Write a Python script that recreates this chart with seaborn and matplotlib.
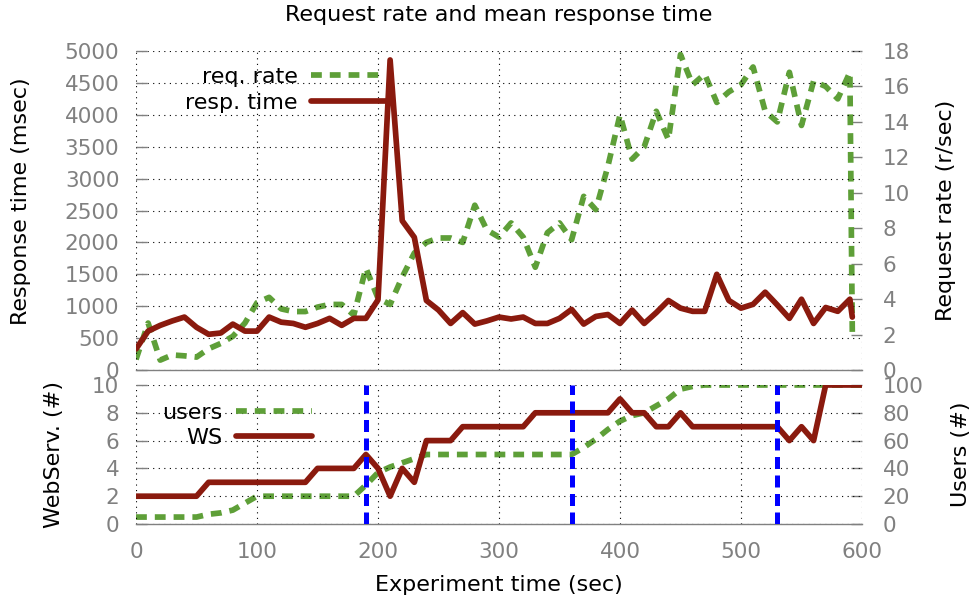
import matplotlib
matplotlib.use('Agg')
import matplotlib.pyplot as plt
import seaborn as sns

# ---- top panel: request rate / response time ----
time_top = [0, 10, 20, 30, 40, 50, 60, 70, 80, 90,
            100, 110, 120, 130, 140, 150, 160, 170, 180, 190,
            200, 210, 220, 230, 240, 250, 260, 270, 280, 290,
            300, 310, 320, 330, 340, 350, 360, 370, 380, 390,
            400, 410, 420, 430, 440, 450, 460, 470, 480, 490,
            500, 510, 520, 530, 540, 550, 560, 570, 580, 590, 592]
resp_time = [330, 610, 700, 770, 830, 670, 560, 580, 720, 610,
             610, 830, 750, 730, 670, 730, 810, 700, 810, 810,
             1100, 4860, 2340, 2080, 1090, 940, 730, 900, 720, 770,
             830, 800, 830, 730, 730, 810, 950, 720, 840, 870,
             730, 940, 730, 900, 1090, 970, 920, 920, 1500, 1090,
             970, 1030, 1220, 1020, 810, 1110, 730, 980, 920, 1110, 830]
req_rate = [0.6, 2.65, 0.56, 0.85, 0.8, 0.73, 1.2, 1.5, 1.9, 2.65,
            3.8, 4.1, 3.45, 3.3, 3.3, 3.55, 3.7, 3.7, 3.1, 5.75,
            4.05, 3.7, 5.25, 6.6, 7.2, 7.45, 7.45, 7.2, 9.3, 7.9,
            7.5, 8.3, 7.5, 5.8, 7.75, 8.3, 7.35, 9.8, 9.05, 11.5,
            14.4, 11.9, 12.6, 14.6, 13.0, 17.8, 16.1, 16.7, 15.1, 15.7,
            16.1, 17.1, 14.6, 14.0, 16.8, 13.8, 16.3, 16.0, 15.3, 16.8, 2.1]

# ---- bottom panel: web servers / users ----
time_bot = [0, 10, 20, 30, 40, 50, 60, 70, 80, 90,
            100, 110, 120, 130, 140, 150, 160, 170, 180, 190,
            200, 210, 220, 230, 240, 250, 260, 270, 280, 290,
            300, 310, 320, 330, 340, 350, 360, 370, 380, 390,
            400, 410, 420, 430, 440, 450, 460, 470, 480, 490,
            500, 510, 520, 530, 540, 550, 560, 570, 580, 590, 600]
web_servers = [2, 2, 2, 2, 2, 2, 3, 3, 3, 3,
               3, 3, 3, 3, 3, 4, 4, 4, 4, 5,
               4, 2, 4, 3, 6, 6, 6, 7, 7, 7,
               7, 7, 7, 8, 8, 8, 8, 8, 8, 8,
               9, 8, 8, 7, 7, 8, 7, 7, 7, 7,
               7, 7, 7, 7, 6, 7, 6, 10, 10, 10, 10]
users = [5, 5, 5, 5, 5, 5, 7, 8, 10, 15,
         20, 20, 20, 20, 20, 20, 20, 20, 20, 28,
         37, 41, 44, 47, 50, 50, 50, 50, 50, 50,
         50, 50, 50, 50, 50, 50, 50, 55, 61, 68,
         74, 78, 80, 85, 90, 97, 99, 100, 100, 100,
         100, 100, 100, 100, 100, 100, 100, 100, 100, 100, 100]
scale_events = [190, 360, 530]

GREEN = '#5e9f38'
RED = '#8a1a0e'
BLUE = '#0000ff'
GRAY = '#808080'
FS = 16

sns.set_theme(style='white')
plt.rcParams['font.family'] = ['DejaVu Sans']
plt.rcParams['axes.unicode_minus'] = False

fig = plt.figure(figsize=(9.73, 6.06), dpi=100)
ax = fig.add_axes([0.1398, 0.3894, 0.7461, 0.5264])
ax_r = ax.twinx()
axb = fig.add_axes([0.1398, 0.1353, 0.7461, 0.2294])
axb_r = axb.twinx()

# keep the left-axis series above the twin
for a, a2 in [(ax, ax_r), (axb, axb_r)]:
    a.set_zorder(a2.get_zorder() + 1)
    a.patch.set_visible(False)

green_dash = (0, (1.9, 1.4))

sns.lineplot(x=time_top, y=req_rate, ax=ax_r, color=GREEN, lw=4.1,
             linestyle=green_dash, estimator=None)
sns.lineplot(x=time_top, y=resp_time, ax=ax, color=RED, lw=4.1, estimator=None)
sns.lineplot(x=time_bot, y=users, ax=axb_r, color=GREEN, lw=4.1,
             linestyle=green_dash, estimator=None)
sns.lineplot(x=time_bot, y=web_servers, ax=axb, color=RED, lw=4.1, estimator=None)
for ev in scale_events:
    axb.axvline(ev, color=BLUE, lw=3.6, linestyle=(0, (2.4, 1.3)), zorder=5)

grid_ls = (0, (1, 4))
for a in [ax, axb]:
    a.set_xlim(0, 600)
    a.set_xticks(range(0, 601, 100))
    a.grid(True, color='black', linestyle=grid_ls, linewidth=0.8)
for a in [ax, ax_r, axb, axb_r]:
    for s in ['top', 'left', 'right', 'bottom']:
        a.spines[s].set_visible(False)
    a.tick_params(direction='in', length=8, width=1, color=GRAY,
                  labelcolor=GRAY, labelsize=15.5)
    a.set_xlabel('')
    a.set_ylabel('')
for a in [ax, axb]:
    a.spines['bottom'].set_visible(True)
    a.spines['bottom'].set_color(GRAY)
    a.spines['bottom'].set_linewidth(1)

ax.set_ylim(0, 5000)
ax.set_yticks(range(0, 5001, 500))
ax_r.set_ylim(0, 18)
ax_r.set_yticks(range(0, 19, 2))
ax.tick_params(axis='x', labelbottom=False)
ax.tick_params(axis='y', pad=12)
ax_r.tick_params(axis='y', pad=15)

axb.set_ylim(0, 10)
axb.set_yticks(range(0, 11, 2))
axb_r.set_ylim(0, 100)
axb_r.set_yticks(range(0, 101, 20))
axb.tick_params(axis='y', pad=12)
axb.tick_params(axis='x', pad=13)
axb_r.tick_params(axis='y', pad=15)

# labels
ax.set_ylabel('Response time (msec)', fontsize=FS, color='black')
ax.yaxis.set_label_coords(-0.145, 0.53)
ax_r.set_ylabel('Request rate (r/sec)', fontsize=FS, color='black')
ax_r.yaxis.set_label_coords(1.102, 0.5)
axb.set_ylabel('WebServ. (#)', fontsize=FS, color='black')
axb.yaxis.set_label_coords(-0.099, 0.5)
axb_r.set_ylabel('Users (#)', fontsize=FS, color='black')
axb_r.yaxis.set_label_coords(1.123, 0.5)
axb.set_xlabel('Experiment time (sec)', fontsize=FS, color='black')
axb.xaxis.set_label_coords(0.5, -0.37)
fig.text(0.513, 0.975, 'Request rate and mean response time', fontsize=FS,
         ha='center', va='center', color='black')

# legends (text left of the sample, right aligned)
ax.legend([ax_r.lines[0], ax.lines[0]], ['req. rate', 'resp. time'],
          loc='upper right', bbox_to_anchor=(0.345, 0.95), markerfirst=False,
          frameon=False, handlelength=3.4, handletextpad=0.6, labelspacing=0.25,
          borderpad=0, borderaxespad=0, fontsize=FS, labelcolor='black')
axb.legend([axb_r.lines[0], axb.lines[0]], ['users', 'WS'],
           loc='upper right', bbox_to_anchor=(0.242, 0.87), markerfirst=False,
           frameon=False, handlelength=3.4, handletextpad=0.6, labelspacing=0.22,
           borderpad=0, borderaxespad=0, fontsize=FS, labelcolor='black')

fig.savefig('out.png', dpi=100)
